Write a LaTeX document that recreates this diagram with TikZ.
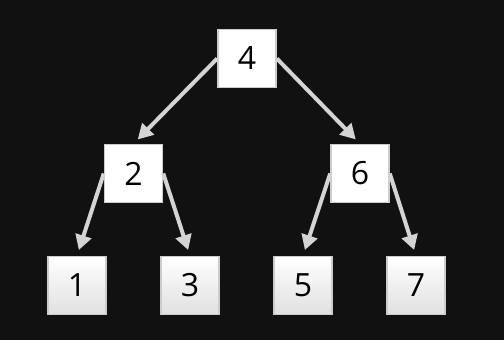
\documentclass[tikz,border=0pt]{standalone}
\usepackage{fontspec}
\setmainfont{Open Sans}
\usetikzlibrary{arrows.meta}
\definecolor{bg}{HTML}{111111}
\definecolor{arr}{HTML}{D4D4D4}
\definecolor{boxline}{HTML}{CCCCCC}
\tikzset{
  treebox/.style={draw=boxline, line width=1.5pt, fill=white, minimum width=58pt, minimum height=58pt, inner sep=0pt, font=\fontsize{32}{32}\selectfont},
  leafbox/.style={treebox, top color=white, bottom color=black!12},
  conn/.style={draw=arr, line width=4pt, -{Triangle[length=15pt,width=16pt]}, shorten >=6pt}
}
\begin{document}
\begin{tikzpicture}[x=1pt,y=-1pt]
\fill[bg] (0,0) rectangle (504,340);
\useasboundingbox (0,0) rectangle (504,340);
\node[treebox] (n4) at (247,58.5) {4};
\node[treebox] (n2) at (133.5,173.5) {2};
\node[treebox] (n6) at (360,173.5) {6};
\node[leafbox] (n1) at (77,285.5) {1};
\node[leafbox] (n3) at (190,285.5) {3};
\node[leafbox] (n5) at (303,285.5) {5};
\node[leafbox] (n7) at (416,285.5) {7};
\draw[conn] (n4.west) -- (n2.north);
\draw[conn] (n4.east) -- (n6.north);
\draw[conn] (n2.west) -- (n1.north);
\draw[conn] (n2.east) -- (n3.north);
\draw[conn] (n6.west) -- (n5.north);
\draw[conn] (n6.east) -- (n7.north);
\end{tikzpicture}
\end{document}
